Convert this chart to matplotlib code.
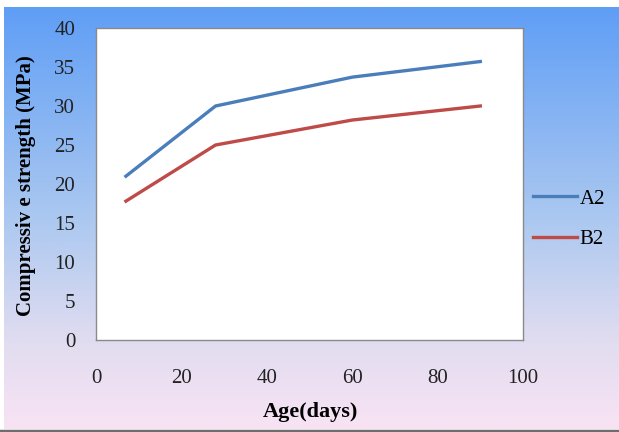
import numpy as np
import matplotlib.pyplot as plt
from matplotlib.colors import LinearSegmentedColormap

plt.rcParams['font.family'] = ['Liberation Serif', 'DejaVu Serif']

# compressive strength vs curing age
age = [7, 28, 60, 90]
a2 = [21, 30, 33.7, 35.7]
b2 = [17.8, 25, 28.2, 30]
series_names = ['A2', 'B2']
x_ticks = [0, 20, 40, 60, 80, 100]
y_ticks = [0, 5, 10, 15, 20, 25, 30, 35, 40]

W, H = 619, 432
fig = plt.figure(figsize=(W / 100, H / 100), dpi=100)
fig.patch.set_facecolor('white')

# gradient backdrop behind the chart
bg = fig.add_axes([4 / W, 3 / H, 1 - 4 / W, (H - 10) / H], zorder=-2)
grad = LinearSegmentedColormap.from_list(
    'bg', [(0.0, '#f8e3f4'), (0.2, '#e2ddf0'), (0.5, '#abc8f0'), (1.0, '#5f9ef6')])
bg.imshow(np.linspace(0, 1, 256).reshape(-1, 1), aspect='auto', cmap=grad,
          origin='lower', extent=[0, 1, 0, 1])
bg.axis('off')

# dark rule along the bottom edge
fig.add_artist(plt.Line2D([0, 1], [1.5 / H, 1.5 / H], color='#6e6e6e', lw=2.5,
                          transform=fig.transFigure))

ax = fig.add_axes([96 / W, 92 / H, 427 / W, 312 / H])
ax.set_facecolor('white')
ax.plot(age, a2, color='#4a7ebb', lw=2.4, label=series_names[0])
ax.plot(age, b2, color='#be4b48', lw=2.4, label=series_names[1])

ax.set_xlim(0, 100)
ax.set_ylim(0, 40)
ax.set_xticks(x_ticks)
ax.set_yticks(y_ticks)
ax.tick_params(axis='x', length=0, pad=21, labelsize=15, labelcolor='#222222')
ax.tick_params(axis='y', length=0, pad=15, labelsize=15, labelcolor='#222222')
for s in ax.spines.values():
    s.set_color('#8a8a8a')
    s.set_linewidth(1)

fig.text(310 / W, 1 - 412 / H, 'Age(days)', ha='center', va='center',
         fontsize=16, fontweight='bold')
fig.text(26 / W, 1 - 186 / H, 'Compressiv e strength (MPa)', ha='center', va='center',
         rotation=90, fontsize=15, fontweight='bold')

ax.legend(loc='center left', bbox_to_anchor=(514 / W, 1 - 219 / H),
          bbox_transform=fig.transFigure, frameon=False, fontsize=15,
          handlelength=2.1, handletextpad=0.15, labelspacing=1.0)

fig.savefig('out.png', dpi=100)
